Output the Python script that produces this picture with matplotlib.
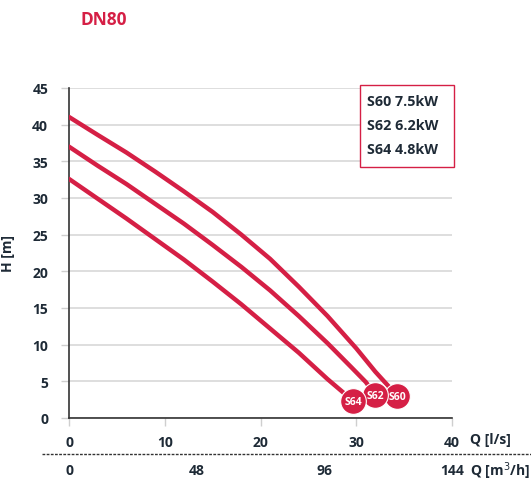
import matplotlib
matplotlib.use("Agg")
import matplotlib.pyplot as plt
from matplotlib.transforms import blended_transform_factory
from matplotlib.lines import Line2D
from matplotlib.patches import Rectangle

# curve data, Q in l/s, H in m
q_s60 = [0, 3, 6, 9, 12, 15, 18, 21, 24, 27, 30, 32, 34.3]
h_s60 = [41.05, 38.6, 36.2, 33.6, 30.9, 28.1, 25.0, 21.7, 17.9, 13.9, 9.5, 6.3, 3.0]
q_s62 = [0, 3, 6, 9, 12, 15, 18, 21, 24, 27, 29.5, 31, 32.0]
h_s62 = [37.0, 34.4, 31.9, 29.2, 26.5, 23.6, 20.6, 17.4, 13.9, 10.2, 6.9, 4.9, 3.1]
q_s64 = [0, 3, 6, 9, 12, 15, 18, 21, 24, 27, 29.7]
h_s64 = [32.6, 29.9, 27.2, 24.4, 21.6, 18.6, 15.5, 12.2, 8.9, 5.3, 2.3]

series_names = ["S60", "S62", "S64"]
legend_lines = ["S60 7.5kW", "S62 6.2kW", "S64 4.8kW"]
x_ticks = [0, 10, 20, 30, 40]
y_ticks = [0, 5, 10, 15, 20, 25, 30, 35, 40, 45]
m3h_ticks = [0, 48, 96, 144]

red = "#d51f45"
ink = "#1e2a36"
font = "Open Sans"

fig = plt.figure(figsize=(5.31, 4.81), dpi=100)
ax = fig.add_axes([69 / 531, 1 - 419 / 481, (452 - 69) / 531, (419 - 89) / 481])
ax.set_xlim(0, 40)
ax.set_ylim(0, 45)

ax.set_xticks(x_ticks)
ax.set_yticks(y_ticks)
ax.tick_params(axis="both", colors="#cfcfcf", labelcolor=ink, labelsize=10, length=6, width=1)
for lab in ax.get_xticklabels() + ax.get_yticklabels():
    lab.set_fontweight("bold")
    lab.set_family(font)
ax.tick_params(axis="x", pad=6)
ax.tick_params(axis="y", pad=9)
ax.grid(axis="y", color="#d8d8d8", lw=1.2)
ax.set_axisbelow(True)
for s in ["top", "right"]:
    ax.spines[s].set_visible(False)
for s in ["left", "bottom"]:
    ax.spines[s].set_color("#333333")
    ax.spines[s].set_linewidth(1.2)

curves = [(q_s60, h_s60), (q_s62, h_s62), (q_s64, h_s64)]
for name, (q, h) in zip(series_names, curves):
    ax.plot(q, h, color=red, lw=3.2, solid_capstyle="round", solid_joinstyle="round", zorder=3)
    ax.plot(q[-1], h[-1], "o", ms=18.5, color=red, mec="white", mew=0.8,
            zorder=4, clip_on=False)
    ax.text(q[-1], h[-1] - 0.1, name, color="white", fontsize=7.5, fontweight="bold",
            family=font, ha="center", va="center", zorder=5)

ax.set_ylabel("H [m]", fontsize=10, fontweight="bold", color=ink, family=font, labelpad=12)

# legend box
ax.add_patch(Rectangle((0.760, 0.761), 0.245, 0.248, transform=ax.transAxes, fc="white",
                       ec=red, lw=1, clip_on=False, zorder=6))
for i, line in enumerate(legend_lines):
    ax.text(0.778, [0.961, 0.887, 0.815][i], line, transform=ax.transAxes, ha="left",
            va="center", fontsize=10.3, fontweight="bold", color=ink, family=font, zorder=7)

# title
fig.text(80 / 531, 1 - 20 / 481, "DN80", color=red, fontsize=12.5, fontweight="bold",
         family=font, ha="left", va="center")

# unit labels and second scale
fig.text(470 / 531, 1 - 440 / 481, "Q [l/s]", color=ink, fontsize=10, fontweight="bold",
         family=font, ha="left", va="center")
fig.add_artist(Line2D([42 / 531, 1.0], [1 - 455 / 481] * 2, transform=fig.transFigure,
                      color="#333333", lw=1, ls=(0, (2, 1))))
tr = blended_transform_factory(ax.transData, fig.transFigure)
for m in m3h_ticks:
    fig.text(m / 3.6, 1 - 471 / 481, str(m), transform=tr, color=ink, fontsize=10,
             fontweight="bold", family=font, ha="center", va="center")
fig.text(470 / 531, 1 - 471 / 481, "Q [m$^3$/h]", color=ink, fontsize=10,
         fontweight="bold", family=font, ha="left", va="center")

fig.savefig("out.png", dpi=100)
